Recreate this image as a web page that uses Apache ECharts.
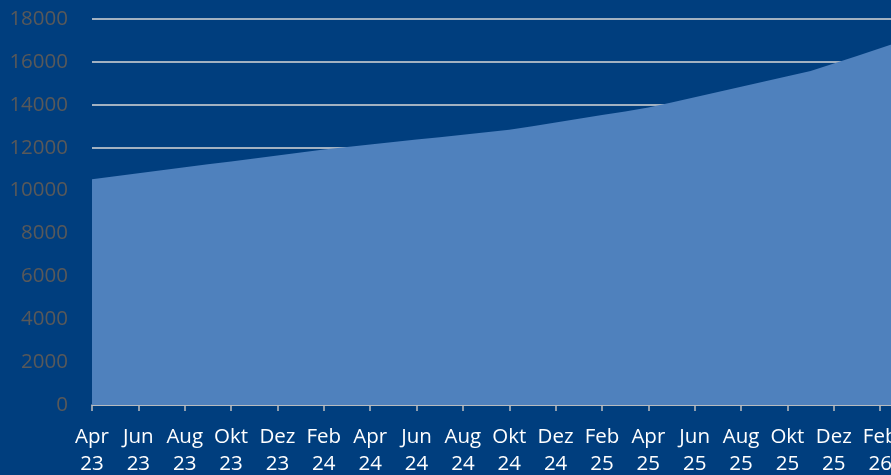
<!DOCTYPE html>
<html>
<head>
<meta charset="utf-8">
<script src="https://cdn.jsdelivr.net/npm/echarts@6/dist/echarts.min.js"></script>
<style>
html,body{margin:0;padding:0;background:#003e7e;overflow:hidden;width:891px;height:475px;}
#chart{width:960px;height:475px;}
</style>
</head>
<body>
<div id="chart"></div>
<script>
// Monthly categories (German abbreviations), Apr 23 .. Apr 26
var categories = [
  "Apr 23","Mai 23","Jun 23","Jul 23","Aug 23","Sep 23","Okt 23","Nov 23","Dez 23",
  "Jan 24","Feb 24","Mär 24","Apr 24","Mai 24","Jun 24","Jul 24","Aug 24","Sep 24","Okt 24","Nov 24","Dez 24",
  "Jan 25","Feb 25","Mär 25","Apr 25","Mai 25","Jun 25","Jul 25","Aug 25","Sep 25","Okt 25","Nov 25","Dez 25",
  "Jan 26","Feb 26","Mär 26","Apr 26"
];
var values = [
  10530,10670,10810,10950,11090,11225,11360,11500,11640,11780,11920,
  12035,12150,12265,12380,12490,12605,12720,12830,
  13000,13170,13345,13520,13690,13870,
  14110,14350,14595,14840,15080,15325,15570,15925,
  16280,16640,16995,17350
];
var yTicks = {min: 0, max: 18000, interval: 2000};

var chart = echarts.init(document.getElementById('chart'));
chart.setOption({
  backgroundColor: '#003e7e',
  animation: false,
  grid: {left: 92, top: 19, bottom: 70, right: 33.5, containLabel: false, outerBoundsMode: 'none'},
  xAxis: {
    type: 'category',
    data: categories,
    boundaryGap: false,
    axisLine: {show: true, lineStyle: {color: '#bfbfbf', width: 1.5}},
    axisTick: {show: true, interval: 1, length: 6, lineStyle: {color: '#bfbfbf', width: 1.5}},
    axisLabel: {
      interval: 1,
      color: '#ffffff',
      fontFamily: 'Open Sans',
      fontSize: 20.5,
      lineHeight: 27,
      margin: 19,
      formatter: function (v) { return v.replace(' ', '\n'); }
    },
    splitLine: {show: false}
  },
  yAxis: {
    type: 'value',
    min: yTicks.min, max: yTicks.max, interval: yTicks.interval,
    axisLine: {show: false},
    axisTick: {show: false},
    axisLabel: {color: '#595959', fontFamily: 'Open Sans', fontSize: 20.5, margin: 24,
      formatter: function (v) { return String(v); }},
    splitLine: {show: true, lineStyle: {color: '#d9d9d9', width: 1.5}}
  },
  series: [{
    type: 'line',
    data: values,
    showSymbol: false,
    symbol: 'none',
    lineStyle: {width: 0},
    areaStyle: {color: '#4f81bd', opacity: 1}
  }]
});
</script>
</body>
</html>
